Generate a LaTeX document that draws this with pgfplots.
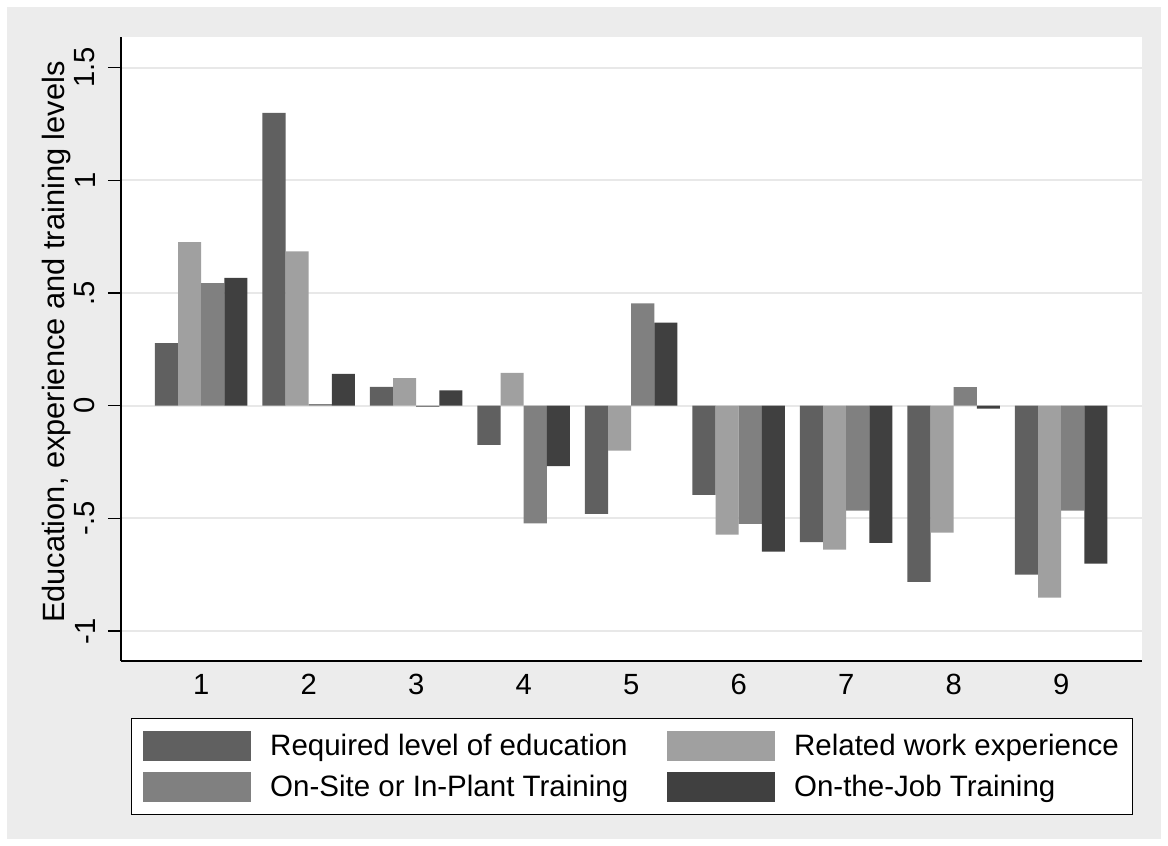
\documentclass[border=0pt]{standalone}
\usepackage{fontspec}
\setmainfont{Liberation Sans}
\usepackage{pgfplots}
\usepackage{pgfplotstable}
\pgfplotsset{compat=1.18}

\definecolor{bggray}{RGB}{236,236,236}
\definecolor{gridgray}{RGB}{232,232,232}
\definecolor{sA}{RGB}{96,96,96}
\definecolor{sB}{RGB}{160,160,160}
\definecolor{sC}{RGB}{128,128,128}
\definecolor{sD}{RGB}{64,64,64}

% occupational group, then the four requirement indices
\pgfplotstableread{
g    A       B       C       D
1    0.278   0.726   0.544   0.567
2    1.299   0.685   0.007   0.141
3    0.083   0.122  -0.005   0.068
4   -0.174   0.146  -0.522  -0.268
5   -0.480  -0.200   0.454   0.368
6   -0.396  -0.572  -0.525  -0.648
7   -0.606  -0.639  -0.466  -0.609
8   -0.782  -0.563   0.082  -0.013
9   -0.750  -0.852  -0.466  -0.701
}\levels

\pgfplotsset{
  sqleg/.style={legend image code/.code={%
    \fill[##1,draw=none] (0pt,-7.5pt) rectangle (54pt,7.5pt);
    \path[fill=none,draw=none] (0pt,-10.3pt) rectangle (63.5pt,10.3pt);}},
}

\begin{document}
\begin{tikzpicture}[x=1pt,y=1pt]
\fill[white] (0,0) rectangle (584,423);
\fill[bggray] (3.5,3.5) rectangle (580.5,419.5);
\begin{axis}[
  at={(60.5pt,92.5pt)}, anchor=south west,
  scale only axis, width=510.5pt, height=312pt,
  xmin=0.254, xmax=9.752, ymin=-1.133, ymax=1.636,
  axis background/.style={fill=white},
  axis x line*=bottom, axis y line*=left,
  axis line style={black, line width=0.75pt},
  xtick={1,...,9}, xticklabels={1,2,3,4,5,6,7,8,9},
  major x tick style={draw=none},
  ytick={-1,-0.5,0,0.5,1,1.5},
  yticklabels={-1,-.5,0,.5,1,1.5},
  tick align=outside, major tick length=6.5pt,
  major y tick style={black, line width=0.6pt},
  ymajorgrids, grid style={gridgray, line width=1pt},
  /pgf/number format/assume math mode=true,
  tick label style={font=\fontsize{14.6}{17}\selectfont},
  yticklabel style={xshift=-6.25pt, rotate=90, anchor=south, inner sep=0pt},
  xticklabel style={anchor=north, inner sep=0pt},
  ylabel={Education, experience and training levels},
  every axis y label/.style={at={(axis description cs:-0.0558,0.511)},
    rotate=90, anchor=base, inner sep=0pt,
    font=\fontsize{15.4}{18}\selectfont},
  ybar, bar width=0.215,
  legend columns=2, legend cell align=left,
  legend style={at={(axis description cs:0.00979,-0.09135)}, anchor=north west,
    draw=black, line width=0.5pt, fill=white,
    inner xsep=5.85pt, inner ysep=3.4pt,
    row sep=0pt, column sep=0pt,
    nodes={inner sep=0pt},
    font=\fontsize{14.75}{17}\selectfont},
]
\addplot[fill=sA, draw=none, bar shift=-0.3225, sqleg] table[x=g, y=A] {\levels};
\addlegendentry{\makebox[198.45pt][l]{Required level of education}}
\addplot[fill=sB, draw=none, bar shift=-0.1075, sqleg] table[x=g, y=B] {\levels};
\addlegendentry{\makebox[163.35pt][l]{Related work experience}}
\addplot[fill=sC, draw=none, bar shift=0.1075, sqleg] table[x=g, y=C] {\levels};
\addlegendentry{\makebox[198.45pt][l]{On-Site or In-Plant Training}}
\addplot[fill=sD, draw=none, bar shift=0.3225, sqleg] table[x=g, y=D] {\levels};
\addlegendentry{\makebox[163.35pt][l]{On-the-Job Training}}
\end{axis}
\end{tikzpicture}
\end{document}
